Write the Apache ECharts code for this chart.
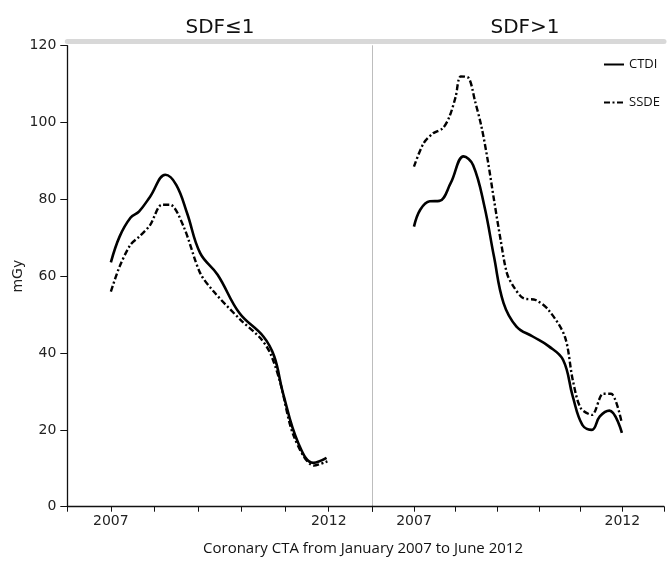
<!DOCTYPE html>
<html><head><meta charset="utf-8">
<script src="https://cdn.jsdelivr.net/npm/echarts@6/dist/echarts.min.js"></script>
<style>html,body{margin:0;padding:0;background:#fff}#c{width:667px;height:568px}</style>
</head><body><div id="c"></div>
<script>
const panelTitles = ['SDF≤1', 'SDF>1'];
const xTickLabels = [2007, 2012];
const yTicks = [0, 20, 40, 60, 80, 100, 120];

const leftYearsCTDI = [2007.0,2007.2,2007.45,2007.65,2007.9,2008.25,2008.5,2008.75,2009.05,2009.45,2009.95,2010.5,2010.75,2010.95,2011.3,2011.65,2011.95];
const leftCTDI      = [63.6,70.3,75.2,76.9,80.7,86.4,83.8,76.4,66.0,60.4,50.4,44.3,39.1,29.6,16.6,11.4,12.7];

const leftYearsSSDE = [2007.0,2007.2,2007.45,2007.65,2007.9,2008.17,2008.36,2008.67,2009.05,2009.36,2009.97,2010.43,2010.66,2010.89,2011.2,2011.66,2011.97];
const leftSSDE      = [56.0,62.5,68.2,70.3,73.3,78.6,78.6,72.9,60.8,56.0,48.7,43.9,39.9,32.2,18.3,10.7,11.8];

const rightYearsCTDI = [2007.0,2007.15,2007.38,2007.61,2007.88,2008.19,2008.42,2008.69,2008.92,2009.15,2009.46,2009.85,2010.23,2010.58,2010.81,2011.04,2011.27,2011.46,2011.69,2011.99];
const rightCTDI      = [72.9,77.3,79.5,79.6,84.2,91.2,88.9,78.2,65.1,53.0,46.9,44.3,41.8,38.2,28.7,21.3,20.0,23.5,25.0,19.2];

const rightYearsSSDE = [2007.0,2007.23,2007.46,2007.69,2007.85,2008.0,2008.12,2008.31,2008.46,2008.62,2008.77,2008.92,2009.08,2009.23,2009.39,2009.62,2009.92,2010.23,2010.62,2010.81,2011.0,2011.27,2011.54,2011.73,2011.99];
const rightSSDE      = [88.5,94.6,97.2,98.5,101.5,106.7,112.0,111.6,105.8,98.9,90.2,79.9,69.4,60.8,57.3,54.3,53.8,51.2,44.3,33.0,25.7,23.9,29.4,29.4,21.7];

const xAxisTitle = 'Coronary CTA from January 2007 to June 2012';
const yAxisTitle = 'mGy';

const pair = (xs, ys) => xs.map((x, i) => [x, ys[i]]);
const dashDot = [6, 2.5, 2, 2.5];
const labelFont = 'DejaVu Sans';

function bottomX(gi) {
  return {
    type: 'value', gridIndex: gi, min: 2006, max: 2013, interval: 1,
    position: 'bottom',
    axisLine: { lineStyle: { color: '#111', width: 1.3 } },
    axisTick: { show: true, length: 5, lineStyle: { color: '#111' } },
    splitLine: { show: false },
    axisLabel: {
      margin: 8, color: '#222', fontFamily: labelFont, fontSize: 14,
      showMinLabel: true, showMaxLabel: true,
      formatter: v => xTickLabels.indexOf(v) >= 0 ? String(v) : ''
    }
  };
}
function topX(gi) {
  return {
    type: 'value', gridIndex: gi, min: 2006, max: 2013, position: 'top', offset: 4,
    axisLine: { lineStyle: { color: '#d8d8d8', width: 5 } },
    axisTick: { show: false }, axisLabel: { show: false }, splitLine: { show: false }
  };
}

const chart = echarts.init(document.getElementById('c'), null, { renderer: 'canvas' });
chart.setOption({
  backgroundColor: '#fff',
  animation: false,
  grid: [
    { left: 67.3, width: 305, top: 45.7, height: 461 },
    { left: 372.3, width: 305, top: 45.7, height: 461 }
  ],
  xAxis: [bottomX(0), bottomX(1), topX(0), topX(1)],
  yAxis: [
    {
      type: 'value', gridIndex: 0, min: 0, max: 120, interval: 20,
      name: yAxisTitle, nameLocation: 'middle', nameGap: 42, nameRotate: 90,
      nameTextStyle: { fontFamily: labelFont, fontSize: 14, color: '#222' },
      axisLine: { show: true, lineStyle: { color: '#111', width: 1.3 } },
      axisTick: { show: true, length: 7, lineStyle: { color: '#111' } },
      axisLabel: { margin: 11, color: '#222', fontFamily: labelFont, fontSize: 14 },
      splitLine: { show: false }
    },
    {
      type: 'value', gridIndex: 1, min: 0, max: 120, interval: 20,
      axisLine: { show: true, lineStyle: { color: '#bdbdbd', width: 1 } },
      axisTick: { show: false }, axisLabel: { show: false }, splitLine: { show: false }
    }
  ],
  legend: {
    orient: 'vertical', left: 603, top: 58, padding: 0, itemWidth: 20, itemHeight: 14, itemGap: 25,
    data: ['CTDI', 'SSDE'],
    itemStyle: { opacity: 0 },
    textStyle: { fontFamily: 'Open Sans', fontSize: 13, color: '#111' }
  },
  graphic: [
    { type: 'text', x: 220, y: 28, style: { text: panelTitles[0], textAlign: 'center', textVerticalAlign: 'middle', font: '20px "DejaVu Sans"', fill: '#111' } },
    { type: 'text', x: 525, y: 28, style: { text: panelTitles[1], textAlign: 'center', textVerticalAlign: 'middle', font: '20px "DejaVu Sans"', fill: '#111' } },
    { type: 'text', x: 363, y: 549, style: { text: xAxisTitle, textAlign: 'center', textVerticalAlign: 'middle', font: '15px "Open Sans"', fill: '#111' } }
  ],
  series: [
    { name: 'CTDI', type: 'line', xAxisIndex: 0, yAxisIndex: 0, data: pair(leftYearsCTDI, leftCTDI), smooth: 0.4, symbol: 'none', showSymbol: false, lineStyle: { color: '#000', width: 2.6, type: 'solid' }, itemStyle: { color: '#000' } },
    { name: 'SSDE', type: 'line', xAxisIndex: 0, yAxisIndex: 0, data: pair(leftYearsSSDE, leftSSDE), smooth: 0.3, symbol: 'none', showSymbol: false, lineStyle: { color: '#000', width: 2.4, type: dashDot }, itemStyle: { color: '#000' } },
    { name: 'CTDI', type: 'line', xAxisIndex: 1, yAxisIndex: 1, data: pair(rightYearsCTDI, rightCTDI), smooth: 0.4, symbol: 'none', showSymbol: false, lineStyle: { color: '#000', width: 2.6, type: 'solid' }, itemStyle: { color: '#000' } },
    { name: 'SSDE', type: 'line', xAxisIndex: 1, yAxisIndex: 1, data: pair(rightYearsSSDE, rightSSDE), smooth: 0.3, symbol: 'none', showSymbol: false, lineStyle: { color: '#000', width: 2.4, type: dashDot }, itemStyle: { color: '#000' } }
  ]
});
</script></body></html>
